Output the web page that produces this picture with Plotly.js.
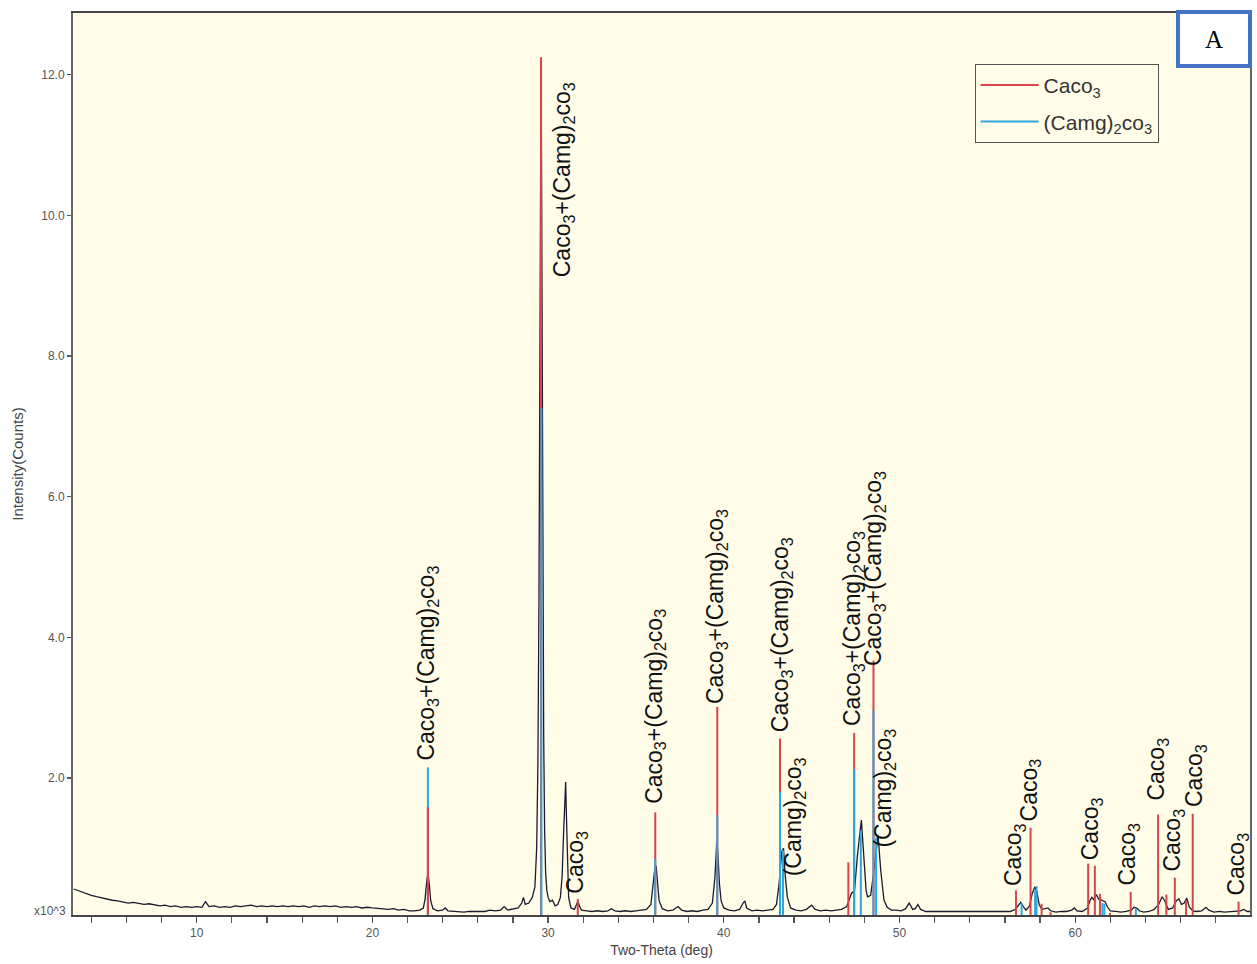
<!DOCTYPE html>
<html>
<head>
<meta charset="utf-8">
<script src="https://cdn.plot.ly/plotly-3.0.1.min.js"></script>
<style>html,body{margin:0;padding:0;background:#fff;}#chart{width:1257px;height:964px;}</style>
</head>
<body>
<div id="chart"></div>
<script>
// XRD pattern (Two-Theta in degrees, intensity in thousands of counts)
const twoTheta = [3.0,3.2,3.4,3.6,3.8,4.0,4.3,4.6,4.9,5.2,5.5,5.8,6.1,6.4,6.7,7.0,7.3,7.6,7.9,8.2,8.5,8.8,9.1,9.4,9.7,10.0,10.3,10.5,10.7,11.0,11.3,11.6,11.9,12.2,12.5,12.8,13.1,13.4,13.7,14.0,14.3,14.6,14.9,15.2,15.5,15.8,16.1,16.4,16.7,17.0,17.3,17.6,17.9,18.2,18.5,18.8,19.1,19.4,19.7,20.0,20.3,20.6,20.9,21.2,21.5,21.8,22.1,22.4,22.7,22.9,23.0,23.08,23.16,23.24,23.32,23.45,23.7,24.0,24.15,24.3,24.6,24.9,25.2,25.5,25.8,26.1,26.4,26.7,27.0,27.3,27.5,27.7,28.0,28.3,28.5,28.6,28.7,28.9,29.1,29.25,29.35,29.42,29.48,29.53,29.57,29.6,29.63,29.67,29.71,29.75,29.8,29.86,29.93,30.0,30.1,30.25,30.4,30.55,30.7,30.8,30.88,30.95,31.0,31.05,31.1,31.17,31.3,31.5,31.62,31.7,31.78,31.9,32.2,32.5,32.8,33.1,33.4,33.6,33.8,34.1,34.4,34.7,35.0,35.3,35.6,35.85,35.98,36.08,36.15,36.22,36.32,36.5,36.8,37.1,37.4,37.6,37.9,38.2,38.5,38.8,39.1,39.35,39.5,39.6,39.66,39.75,39.85,40.0,40.3,40.6,40.9,41.1,41.2,41.3,41.6,41.9,42.2,42.5,42.8,43.0,43.15,43.3,43.4,43.5,43.62,43.8,44.1,44.4,44.7,45.0,45.2,45.5,45.8,46.1,46.4,46.7,47.0,47.15,47.27,47.44,47.6,47.83,47.98,48.1,48.18,48.36,48.55,48.78,48.93,49.12,49.3,49.54,49.8,50.1,50.35,50.55,50.75,50.9,51.05,51.2,51.5,51.8,52.1,52.4,52.7,53.0,53.3,53.6,53.9,54.2,54.5,54.8,55.1,55.4,55.7,56.0,56.3,56.6,56.8,56.9,57.05,57.2,57.4,57.55,57.7,57.82,57.95,58.1,58.3,58.45,58.6,58.9,59.2,59.5,59.8,59.95,60.1,60.4,60.7,60.85,60.95,61.05,61.2,61.35,61.5,61.7,61.85,62.0,62.3,62.6,62.9,63.2,63.35,63.5,63.65,63.9,64.2,64.5,64.75,64.95,65.1,65.3,65.55,65.75,65.9,66.05,66.2,66.35,66.5,66.7,66.9,67.2,67.45,67.6,67.9,68.2,68.5,68.8,69.1,69.4,69.6,69.8,70.0];
const counts = [0.42,0.40,0.38,0.37,0.34,0.33,0.31,0.29,0.28,0.26,0.25,0.24,0.22,0.23,0.21,0.20,0.21,0.19,0.18,0.19,0.17,0.18,0.16,0.17,0.16,0.17,0.16,0.24,0.17,0.18,0.16,0.17,0.16,0.18,0.17,0.18,0.19,0.17,0.18,0.17,0.18,0.17,0.18,0.17,0.18,0.17,0.18,0.16,0.18,0.17,0.18,0.17,0.18,0.16,0.17,0.16,0.17,0.15,0.16,0.15,0.14,0.14,0.13,0.14,0.12,0.13,0.11,0.11,0.12,0.15,0.28,0.50,0.65,0.48,0.25,0.14,0.11,0.12,0.15,0.11,0.10,0.10,0.09,0.10,0.10,0.11,0.10,0.12,0.11,0.12,0.17,0.12,0.13,0.15,0.22,0.30,0.20,0.22,0.30,0.45,1.0,2.2,4.5,8.6,10.0,12.2,10.5,7.5,5.1,2.6,1.3,0.65,0.4,0.3,0.24,0.26,0.18,0.2,0.3,0.6,1.2,1.85,1.94,1.4,0.7,0.3,0.15,0.13,0.2,0.25,0.18,0.12,0.11,0.10,0.11,0.10,0.11,0.14,0.11,0.10,0.11,0.10,0.11,0.12,0.13,0.2,0.45,0.72,0.75,0.5,0.25,0.14,0.11,0.12,0.17,0.12,0.10,0.11,0.10,0.12,0.13,0.22,0.6,1.09,0.95,0.5,0.25,0.15,0.12,0.11,0.13,0.22,0.25,0.15,0.11,0.12,0.11,0.12,0.13,0.2,0.5,0.95,1.0,0.6,0.3,0.15,0.12,0.11,0.13,0.19,0.13,0.11,0.12,0.11,0.12,0.13,0.17,0.28,0.36,0.40,0.88,1.40,0.83,0.4,0.31,0.33,0.69,1.19,0.69,0.26,0.16,0.12,0.12,0.11,0.14,0.22,0.13,0.14,0.20,0.13,0.10,0.10,0.09,0.10,0.09,0.10,0.09,0.10,0.09,0.10,0.09,0.10,0.09,0.10,0.09,0.10,0.10,0.13,0.2,0.23,0.17,0.12,0.18,0.35,0.45,0.38,0.2,0.13,0.14,0.15,0.11,0.09,0.10,0.10,0.12,0.15,0.11,0.10,0.15,0.26,0.30,0.27,0.34,0.27,0.26,0.24,0.16,0.11,0.10,0.09,0.10,0.12,0.16,0.15,0.11,0.09,0.10,0.13,0.2,0.31,0.25,0.13,0.15,0.25,0.28,0.2,0.22,0.29,0.16,0.11,0.10,0.11,0.16,0.12,0.09,0.10,0.09,0.10,0.10,0.11,0.13,0.10,0.10];

// Reference sticks: CaCO3 (red)
const calcitePos = [23.16,29.6,31.69,36.10,39.63,43.20,47.09,47.42,48.52,56.63,57.46,58.09,58.60,60.74,61.12,61.41,61.98,63.16,64.72,65.19,65.67,66.31,66.69,69.30];
const calciteInt = [1.58,12.25,0.28,1.51,3.01,2.56,0.80,2.64,3.67,0.40,1.29,0.21,0.09,0.78,0.75,0.35,0.08,0.38,1.48,0.34,0.58,0.26,1.49,0.24];
// Reference sticks: (CaMg)2CO3 (blue)
const dolomitePos = [23.16,29.62,36.10,39.63,43.20,43.37,47.42,47.80,48.52,48.67,56.95,57.72,57.80,61.55,61.66,63.45];
const dolomiteInt = [2.15,7.26,0.85,1.47,1.80,0.97,2.12,1.25,2.96,1.15,0.22,0.40,0.46,0.22,0.21,0.14];

// Peak labels
const MIX = 'Caco<sub>3</sub>+(Camg)<sub>2</sub>co<sub>3</sub>';
const CAL = 'Caco<sub>3</sub>';
const DOL = '(Camg)<sub>2</sub>co<sub>3</sub>';
const labelText = [MIX, MIX, CAL, MIX, MIX, MIX, DOL, MIX, MIX, DOL, CAL, CAL, CAL, CAL, CAL, CAL, CAL, CAL];
const labelX = [23.13,30.89,31.62,36.07,39.60,43.30,44.00,47.35,48.55,49.17,56.52,57.43,60.91,63.02,64.67,65.58,66.84,69.23];
const labelY = [2.23,9.11,0.34,1.62,3.04,2.64,0.58,2.73,3.57,1.00,0.44,1.36,0.81,0.45,1.66,0.65,1.57,0.31];

const seriesNames = ['Caco<sub>3</sub>', '(Camg)<sub>2</sub>co<sub>3</sub>'];
const RED = '#d9434b', BLUE = '#2fa6dd';

function sticks(pos, h) {
  const x = [], y = [];
  pos.forEach((p, i) => { x.push(p, p, null); y.push(0, h[i], null); });
  return {x, y};
}
const red = sticks(calcitePos, calciteInt);
const blue = sticks(dolomitePos, dolomiteInt);
// red sticks shorter than a coincident blue one are drawn on top
const ovP = [], ovH = [];
calcitePos.forEach((p, i) => {
  dolomitePos.forEach((q, j) => {
    if (Math.abs(p - q) < 0.05 && dolomiteInt[j] > calciteInt[i]) { ovP.push(p); ovH.push(calciteInt[i]); }
  });
});
const ov = sticks(ovP, ovH);

const traces = [
  {x: twoTheta, y: counts, type: 'scatter', mode: 'lines', line: {color: '#1b1b2f', width: 1.3}, showlegend: false, hoverinfo: 'skip'},
  {x: red.x, y: red.y, type: 'scatter', mode: 'lines', name: seriesNames[0], legendgroup: 'g1', line: {color: RED, width: 2}},
  {x: blue.x, y: blue.y, type: 'scatter', mode: 'lines', name: seriesNames[1], legendgroup: 'g2', line: {color: BLUE, width: 2}},
  {x: ov.x, y: ov.y, type: 'scatter', mode: 'lines', showlegend: false, legendgroup: 'g1', line: {color: RED, width: 2}}
];

const font = 'Liberation Sans, Arial, sans-serif';
const annotations = labelText.map((t, i) => ({
  x: labelX[i], y: labelY[i], xref: 'x', yref: 'y', text: t, showarrow: false,
  textangle: -90, xanchor: 'center', yanchor: 'bottom',
  font: {family: font, size: 23, color: '#111'}, borderpad: 0
}));
annotations.push({
  xref: 'paper', yref: 'paper', x: -0.004, y: 0.004, xanchor: 'right', yanchor: 'middle',
  text: 'x10^3', showarrow: false, font: {family: font, size: 12, color: '#555'}
});
annotations.push({
  xref: 'paper', yref: 'paper', x: 0.9694, y: 0.971, xanchor: 'center', yanchor: 'middle',
  text: 'A', showarrow: false, width: 68, height: 50, bgcolor: '#ffffff',
  bordercolor: '#4472c4', borderwidth: 4, borderpad: 0,
  font: {family: 'Liberation Serif, Times New Roman, serif', size: 25, color: '#000'}
});

const layout = {
  width: 1257, height: 964,
  margin: {l: 73, r: 7, t: 13, b: 49},
  paper_bgcolor: '#ffffff', plot_bgcolor: '#fffde8',
  font: {family: font, color: '#444'},
  showlegend: true,
  legend: {
    x: 0.766, y: 0.9435, xanchor: 'left', yanchor: 'top',
    bgcolor: '#fffde8', bordercolor: '#555', borderwidth: 1,
    traceorder: 'grouped', tracegroupgap: 6, itemwidth: 58, entrywidth: 130,
    font: {family: font, size: 21, color: '#333'}
  },
  xaxis: {
    range: [2.96, 69.95], dtick: 10, tick0: 0,
    ticks: 'outside', ticklen: 6, tickcolor: '#555', tickwidth: 1.2,
    minor: {dtick: 2, ticks: 'outside', ticklen: 6, tickcolor: '#555', tickwidth: 1.2, showgrid: false},
    showgrid: false, zeroline: false,
    showline: true, linecolor: '#444', linewidth: 2, mirror: true,
    tickfont: {family: font, size: 12, color: '#555'},
    title: {text: 'Two-Theta (deg)', font: {family: font, size: 14, color: '#444'}, standoff: 6}
  },
  yaxis: {
    range: [0.05, 12.88], dtick: 2, tick0: 0, tickformat: '.1f',
    ticks: 'outside', ticklen: 4, tickcolor: '#555', tickwidth: 1.2,
    showgrid: false, zeroline: false,
    showline: true, linecolor: '#666', linewidth: 2, mirror: true,
    tickfont: {family: font, size: 12, color: '#555'},
    title: {text: 'Intensity(Counts)', font: {family: font, size: 15, color: '#444'}, standoff: 14}
  },
  annotations: annotations
};

Plotly.newPlot('chart', traces, layout, {displayModeBar: false, staticPlot: true});
</script>
</body>
</html>
